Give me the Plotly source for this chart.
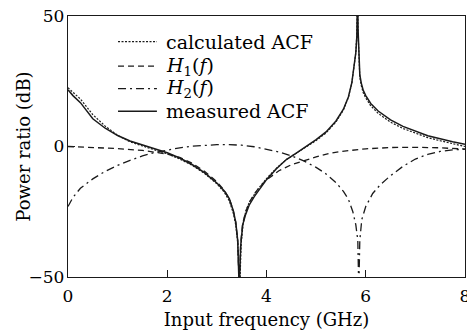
import plotly.graph_objects as go

# ---------------- data ----------------
acf_meas_f = [0, 0.1, 0.25, 0.5, 0.75, 1.0, 1.25, 1.5, 1.75, 2.0, 2.25, 2.5, 2.75, 3.0,
              3.15, 3.25, 3.33, 3.38, 3.42, 3.45, 3.48, 3.52, 3.58, 3.65, 3.75, 3.85,
              4.0, 4.2, 4.4, 4.6, 4.8, 5.0, 5.2, 5.4, 5.55, 5.65, 5.72, 5.77, 5.80,
              5.82, 5.835, 5.845, 5.86, 5.88, 5.91, 5.95, 6.0, 6.1, 6.25, 6.5, 6.75,
              7.0, 7.25, 7.5, 7.75, 8.0]
acf_meas_db = [21.7, 19.5, 16.8, 10.6, 7.0, 4.2, 2.1, 0.6, -0.9, -2.4, -4.4, -6.9, -10.0, -14.0,
               -17.0, -20.0, -24.5, -29.0, -36.0, -55.0, -38.0, -30.0, -26.0, -22.5, -19.3, -16.5,
               -12.7, -8.5, -5.0, -2.5, 0.0, 2.6, 5.6, 9.8, 14.3, 19.0, 24.5, 30.6, 36.0,
               42.0, 60.0, 45.0, 33.0, 27.5, 24.3, 21.5, 19.5, 16.5, 13.6, 10.2, 7.7,
               5.9, 4.1, 3.0, 1.8, 0.9]

acf_calc_f = [0, 0.1, 0.25, 0.5, 0.75, 1.0, 1.25, 1.5, 1.75, 2.0, 2.25, 2.5, 2.75, 3.0,
              3.15, 3.25, 3.33, 3.38, 3.42, 3.46, 3.49, 3.53, 3.58, 3.65, 3.75, 3.85,
              4.0, 4.2, 4.4, 4.6, 4.8, 5.0, 5.2, 5.4, 5.55, 5.65, 5.72, 5.77, 5.80,
              5.82, 5.835, 5.845, 5.86, 5.88, 5.91, 5.95, 6.0, 6.1, 6.25, 6.5, 6.75,
              7.0, 7.25, 7.5, 7.75, 8.0]
acf_calc_db = [22.5, 20.8, 18.2, 12.2, 7.8, 4.3, 1.8, 0.2, -1.2, -2.8, -4.8, -7.2, -10.3, -14.3,
               -17.5, -20.8, -25.5, -30.0, -37.0, -55.0, -37.0, -29.5, -25.0, -21.5, -18.5, -15.8,
               -12.3, -8.3, -5.0, -2.6, -0.2, 2.3, 5.2, 9.4, 14.0, 18.8, 24.3, 30.5, 36.0,
               43.0, 60.0, 44.0, 32.0, 26.5, 23.3, 20.6, 18.6, 15.6, 12.7, 9.3, 6.9,
               5.0, 3.4, 2.2, 1.0, 0.0]

h1_f = [0, 0.5, 1.0, 1.5, 2.0, 2.25, 2.5, 2.75, 3.0, 3.15, 3.25, 3.33, 3.38, 3.42, 3.45,
        3.48, 3.52, 3.58, 3.65, 3.75, 3.85, 4.0, 4.25, 4.5, 4.75, 5.0, 5.25, 5.5, 6.0,
        6.5, 7.0, 7.5, 8.0]
h1_db = [0.0, -0.3, -0.8, -1.5, -2.9, -4.2, -6.4, -9.5, -13.5, -16.8, -20.0, -24.5, -29.0, -36.0, -55.0,
         -37.0, -29.5, -25.0, -21.5, -18.3, -15.8, -12.8, -9.3, -7.0, -5.4, -4.0, -2.7, -1.9, -0.9,
         -0.4, -0.3, -0.5, -1.0]

h2_f = [0, 0.1, 0.25, 0.5, 0.75, 1.0, 1.25, 1.5, 1.75, 2.0, 2.25, 2.5, 2.75, 3.0, 3.25,
        3.5, 3.75, 4.0, 4.25, 4.5, 4.75, 5.0, 5.2, 5.4, 5.55, 5.65, 5.74, 5.8, 5.84, 5.86,
        5.88, 5.92, 6.0, 6.14, 6.3, 6.48, 6.75, 7.0, 7.25, 7.5, 7.75, 8.0]
h2_db = [-23.0, -19.5, -16.0, -12.4, -9.5, -7.2, -5.3, -3.6, -2.3, -1.3, -0.5, 0.1, 0.5, 0.7, 0.7,
         0.5, -0.1, -1.0, -2.1, -3.6, -5.5, -8.0, -10.5, -13.8, -17.2, -20.2, -25.0, -30.0, -36.0, -55.0,
         -36.0, -28.0, -23.0, -18.0, -14.5, -11.5, -7.6, -4.8, -3.0, -1.9, -1.3, -1.0]

series_names = ["calculated ACF",
                "<i>H</i><sub>1</sub>(<i>f</i>)",
                "<i>H</i><sub>2</sub>(<i>f</i>)",
                "measured ACF"]

x_ticks = [0, 2, 4, 6, 8]
y_ticks = [-50, 0, 50]

# ---------------- styling ----------------
INK = "#1a1a1a"
FONT = "DejaVu Serif"
dashes = ["2px,1.5px", "6px,4px", "8px,4px,2px,4px", "solid"]
widths = [1.2, 1.3, 1.3, 1.5]

fig = go.Figure()
data = [(acf_calc_f, acf_calc_db), (h1_f, h1_db), (h2_f, h2_db), (acf_meas_f, acf_meas_db)]
for (xs, ys), nm, ds, w in zip(data, series_names, dashes, widths):
    fig.add_trace(go.Scatter(x=xs, y=ys, mode="lines", name=nm, showlegend=False,
                             line=dict(color=INK, width=w, dash=ds)))

# legend drawn as line samples + text inside the plot area (paper coordinates)
leg_x0, leg_x1, leg_tx = 0.126, 0.224, 0.244
leg_rows = [0.902, 0.808, 0.722, 0.635]
for nm, ds, w, yy in zip(series_names, dashes, widths, leg_rows):
    fig.add_shape(type="line", xref="paper", yref="paper", x0=leg_x0, x1=leg_x1, y0=yy, y1=yy,
                  line=dict(color=INK, width=w, dash=ds))
    fig.add_annotation(xref="paper", yref="paper", x=leg_tx, y=yy, text=nm, showarrow=False,
                       xanchor="left", yanchor="middle", borderpad=0,
                       font=dict(family=FONT, size=19, color="black"))

# y-axis title as rotated text
fig.add_annotation(xref="paper", yref="paper", x=-0.113, y=0.5, text="Power ratio (dB)",
                   showarrow=False, textangle=-90, xanchor="center", yanchor="middle",
                   font=dict(family=FONT, size=18, color="black"))

fig.update_layout(
    width=467, height=331,
    margin=dict(l=68, r=2, t=16, b=54, autoexpand=False),
    plot_bgcolor="white", paper_bgcolor="white",
    font=dict(family=FONT, color="black", size=17),
    showlegend=False,
)
fig.update_xaxes(range=[0, 8], tickvals=x_ticks, ticks="inside", ticklen=7, tickwidth=1.2,
                 tickcolor=INK, showline=True, linecolor=INK, linewidth=1.3, mirror=True,
                 showgrid=False, zeroline=False, automargin=False, ticklabelstandoff=3,
                 ticklabeloverflow="allow",
                 title=dict(text="Input frequency (GHz)", font=dict(size=18), standoff=8),
                 tickfont=dict(size=17))
fig.update_yaxes(range=[-50, 50], tickvals=y_ticks, ticks="inside", ticklen=7, tickwidth=1.2,
                 tickcolor=INK, showline=True, linecolor=INK, linewidth=1.3, mirror=True,
                 showgrid=False, zeroline=False, automargin=False, ticklabelstandoff=-1,
                 ticklabeloverflow="allow",
                 tickfont=dict(size=17))

# remove the browser's default 8px page margin so the figure fills the window exactly
fig.write_html("out.html",
               config={"displayModeBar": False, "staticPlot": True},
               post_script="document.body.style.margin='0';document.body.style.overflow='hidden';")
